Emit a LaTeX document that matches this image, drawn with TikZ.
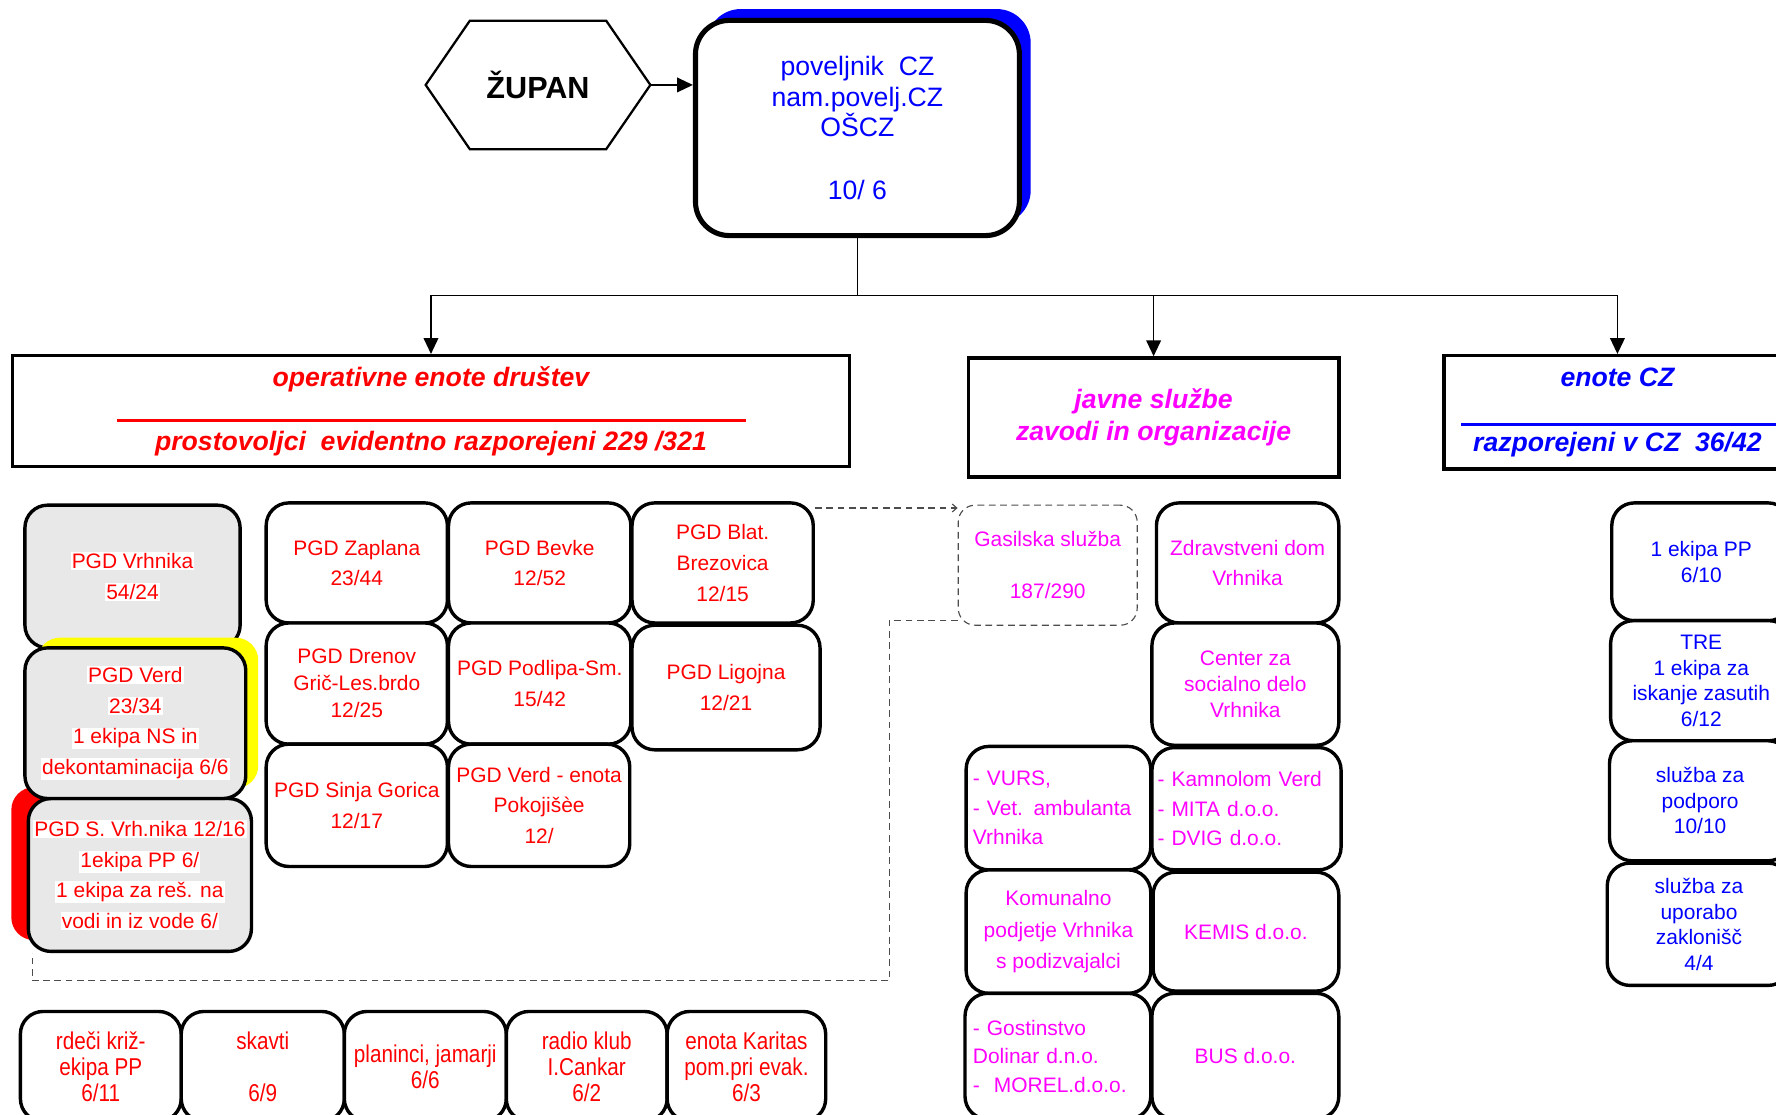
\documentclass[tikz,border=0pt]{standalone}
\usepackage{fontspec}
\setmainfont{Liberation Sans}
\newfontfamily\narrowsans[FakeStretch=0.85]{Liberation Sans}
\usetikzlibrary{arrows.meta,shadows,calc}
\definecolor{cred}{RGB}{255,0,0}
\definecolor{cmag}{RGB}{255,0,255}
\definecolor{cblue}{RGB}{0,0,255}
\definecolor{cyel}{RGB}{255,255,0}
\definecolor{cgray}{RGB}{232,232,232}
\newcommand\wbx[1]{{\setlength\fboxsep{1pt}\colorbox{white}{#1}}}
\newcommand\fsz[2]{\fontsize{#1}{#2}\selectfont}
\begin{document}
\begin{tikzpicture}[x=1pt,y=-1pt,
  rbox/.style={draw=black, line width=3pt, rounded corners=20pt, fill=white, inner sep=0pt, align=center},
  gbox/.style={rbox, fill=cgray},
  hbox/.style={draw=black, line width=3pt, fill=white, inner sep=0pt, align=center},
  conn/.style={draw=black, line width=1.2pt},
  arr/.style={conn, -{Triangle[length=14pt,width=13pt]}},
  dconn/.style={draw=black!70, line width=1pt, dash pattern=on 6pt off 4pt},
  redtxt/.style={text=cred, font=\fsz{18.5}{27}},
  magtxt/.style={text=cmag, font=\fsz{18.5}{26}},
  bluetxt/.style={text=cblue, font=\fsz{18.5}{22.5}},
  bottxt/.style={text=cred, font=\narrowsans\fsz{21.5}{23}},
  headtxt/.style={font=\bfseries\itshape\fsz{23.5}{29}}
]
\useasboundingbox (0,0) rectangle (1568,984);
\clip (0,0) rectangle (1568,984);

% ZUPAN
\node[minimum width=198pt, minimum height=113pt, inner sep=0pt, font=\bfseries\fsz{27}{30}] (zupan) at (475,75) {ŽUPAN};
\draw[line width=2pt] (zupan.west) -- ($(zupan.north west)+(39,0)$) -- ($(zupan.north east)+(-39,0)$) -- (zupan.east) -- ($(zupan.south east)+(-39,0)$) -- ($(zupan.south west)+(39,0)$) -- cycle;

% commander
\node[draw=black, line width=4.5pt, rounded corners=30pt, fill=white, minimum width=286pt, minimum height=190pt, inner sep=0pt, align=center, text=cblue, font=\fsz{23.5}{27},
  drop shadow={shadow xshift=10pt, shadow yshift=10pt, fill=cblue, opacity=1}] (cmd) at (757,113)
  {poveljnik\ \ CZ\\nam.povelj.CZ\\OŠCZ\\[28pt]10/ 6};

\draw[arr] (zupan.east) -- (zupan.east -| cmd.west);

% headers
\node[hbox, minimum width=739pt, minimum height=98pt, text=cred, headtxt] (op) at (380.5,363)
  {operativne enote društev\\[28pt]prostovoljci\ \ evidentno razporejeni 229 /321};
\draw[cred, line width=2.5pt] (103,371) -- (659,371);

\node[hbox, minimum width=327pt, minimum height=105pt, text=cmag, headtxt] (js) at (1018.5,368.5)
  {javne službe\\zavodi in organizacije};

\node[hbox, minimum width=306pt, minimum height=100pt, text=cblue, headtxt] (ecz) at (1428,364)
  {enote CZ\\[28pt]razporejeni v CZ\ \ 36/42};
\draw[cblue, line width=2.5pt] (1290,375) -- (1580,375);

% tree connectors
\coordinate (bus) at (757,261);
\draw[conn] (cmd.south) -- (bus);
\draw[arr] (bus) -| (op.north);
\draw[arr] (bus) -| (js.north);
\draw[arr] (bus) -| (ecz.north);

% left gray column
\node[gbox, redtxt, minimum width=197pt, minimum height=135pt,
  drop shadow={shadow xshift=-15pt, shadow yshift=10pt, fill=cred, opacity=1}] (svrh) at (123.5,772.5)
  {\wbx{PGD S. Vrh.nika 12/16}\\\wbx{1ekipa PP 6/}\\\wbx{1 ekipa za reš. na}\\\wbx{vodi in iz vode 6/}};
\node[gbox, redtxt, minimum width=190pt, minimum height=126pt] (vrh) at (117,509)
  {\wbx{PGD Vrhnika}\\\wbx{54/24}};
\node[gbox, redtxt, minimum width=195pt, minimum height=133pt,
  drop shadow={shadow xshift=11pt, shadow yshift=9pt, fill=cyel, opacity=1}] (verd) at (119.5,638.5)
  {\wbx{PGD Verd}\\\wbx{23/34}\\\wbx{1 ekipa NS in}\\\wbx{dekontaminacija 6/6}};

% PGD grid
\node[rbox, redtxt, minimum width=160pt, minimum height=106pt] (zap) at (315,497) {PGD Zaplana\\23/44};
\node[rbox, redtxt, minimum width=161pt, minimum height=106pt] (bev) at (476.5,497) {PGD Bevke\\12/52};
\node[rbox, redtxt, minimum width=160pt, minimum height=106pt] (blat) at (638,497) {PGD Blat.\\Brezovica\\12/15};
\node[rbox, text=cred, font=\fsz{18.5}{24}, minimum width=160pt, minimum height=107pt] (dren) at (315,603.5) {PGD Drenov\\Grič-Les.brdo\\12/25};
\node[rbox, redtxt, minimum width=161pt, minimum height=107pt] (podl) at (476.5,603.5) {PGD Podlipa-Sm.\\15/42};
\node[rbox, redtxt, minimum width=166pt, minimum height=110pt] (lig) at (641,607) {PGD Ligojna\\12/21};
\node[rbox, redtxt, minimum width=160pt, minimum height=108pt] (sinja) at (315,711) {PGD Sinja Gorica\\12/17};
\node[rbox, redtxt, minimum width=160pt, minimum height=108pt] (pok) at (476,711) {PGD Verd - enota\\Pokojišèe\\12/};

% gasilska
\node[draw=black!70, line width=1pt, dash pattern=on 6pt off 4pt, rounded corners=15pt, inner sep=0pt, align=center,
  magtxt, font=\fsz{18.5}{23}, minimum width=158pt, minimum height=106pt] (gas) at (925,499) {Gasilska služba\\[23pt]187/290};
\draw[dconn, -{Straight Barb[length=4pt,width=7pt]}] ([yshift=-6pt]blat.north east) -- ([yshift=-6pt]blat.north east -| gas.west);
\coordinate (dA) at (785,866);
\draw[dconn] ([yshift=5pt]gas.south west) -| (dA) -| ([xshift=5pt]svrh.south west);

% javne column
\node[rbox, magtxt, minimum width=161pt, minimum height=106pt] (zd) at (1101.5,497) {Zdravstveni dom\\Vrhnika};
\node[rbox, text=cmag, font=\fsz{18.5}{23}, minimum width=165pt, minimum height=108pt] (csd) at (1099.5,604) {Center za\\socialno delo\\Vrhnika};
\node[rbox, magtxt, align=left, inner xsep=6pt, text width=151pt, minimum height=109pt] (vurs) at (934.5,713.5) {- VURS,\\- Vet. ambulanta\\Vrhnika};
\node[rbox, magtxt, align=left, inner xsep=5pt, text width=157pt, minimum height=108pt] (kam) at (1100.5,714) {- Kamnolom Verd\\- MITA d.o.o.\\- DVIG d.o.o.};
\node[rbox, text=cmag, font=\fsz{18.5}{27.5}, minimum width=163pt, minimum height=109pt] (kom) at (934.5,822.5) {Komunalno\\podjetje Vrhnika\\s podizvajalci};
\node[rbox, magtxt, minimum width=164pt, minimum height=105pt] (kem) at (1100,822.5) {KEMIS d.o.o.};
\node[rbox, text=cmag, font=\fsz{18.5}{25}, align=left, inner xsep=7pt, text width=150pt, minimum height=111pt] (gost) at (934,932.5) {- Gostinstvo\\Dolinar d.n.o.\\-\ \ MOREL.d.o.o.};
\node[rbox, magtxt, minimum width=165pt, minimum height=111pt] (bus2) at (1099.5,932.5) {BUS d.o.o.};

% enote CZ column
\node[rbox, bluetxt, minimum width=158pt, minimum height=104pt] (e1) at (1502,496) {1 ekipa PP\\6/10};
\node[rbox, bluetxt, minimum width=160pt, minimum height=106pt] (e2) at (1502,601) {TRE\\1 ekipa za\\iskanje zasutih\\6/12};
\node[rbox, bluetxt, minimum width=160pt, minimum height=106pt] (e3) at (1501,707) {služba za\\podporo\\10/10};
\node[rbox, bluetxt, minimum width=162pt, minimum height=108pt] (e4) at (1500,816) {služba za\\uporabo\\zaklonišč\\4/4};

% bottom row
\node[rbox, bottxt, minimum width=142pt, minimum height=97pt] (rk) at (89,941.5) {rdeči križ-\\ekipa PP\\6/11};
\node[rbox, bottxt, minimum width=144pt, minimum height=97pt] (sk) at (232,941.5) {skavti\\[23pt]6/9};
\node[rbox, bottxt, minimum width=143pt, minimum height=97pt] (pl) at (375.5,941.5) {planinci, jamarji\\6/6};
\node[rbox, bottxt, minimum width=142pt, minimum height=97pt] (rad) at (518,941.5) {radio klub\\I.Cankar\\6/2};
\node[rbox, bottxt, minimum width=140pt, minimum height=97pt] (kar) at (659,941.5) {enota Karitas\\pom.pri evak.\\6/3};
\end{tikzpicture}
\end{document}
